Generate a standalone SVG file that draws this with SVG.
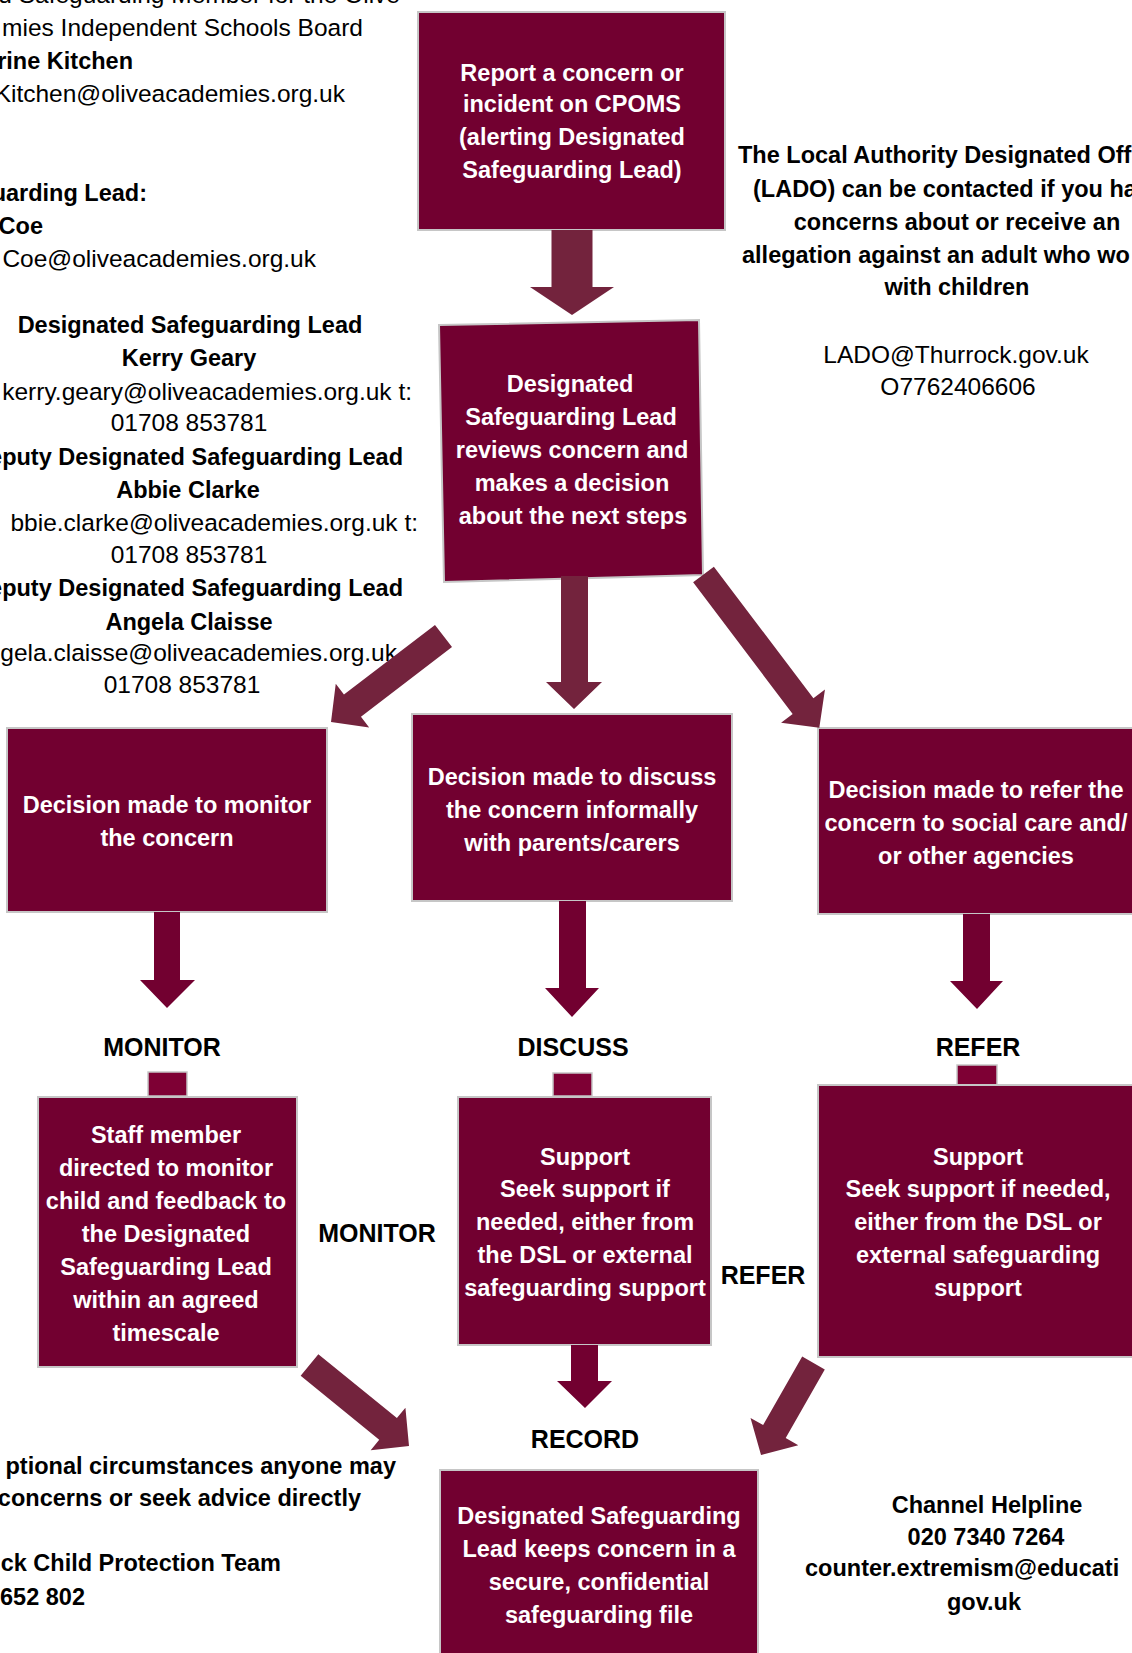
<svg xmlns="http://www.w3.org/2000/svg" width="1132" height="1653" viewBox="0 0 1132 1653">
<style>
.box{fill:#720030;stroke:#c6c6c6;stroke-width:2}
.sq{fill:#7e0034;stroke:#c6c6c6;stroke-width:1.5}
.arr{fill:#73233d}
.arrd{fill:#720030}
text{font-family:"Liberation Sans",Arial,sans-serif}
.wt{fill:#fff;font-weight:bold;font-size:23.5px;text-anchor:middle}
.bt{fill:#000;font-weight:bold;font-size:23.5px}
.rt{fill:#000;font-size:24.5px}
.lbl{fill:#000;font-weight:bold;font-size:25px;text-anchor:middle}
.m{text-anchor:middle}
.e{text-anchor:end}
</style>
<rect width="1132" height="1653" fill="#fff"/>

<g id="contacts-left">
<text class="rt e" x="400" y="3">d Safeguarding Member for the Olive</text>
<text class="rt e" x="363" y="36">mies Independent Schools Board</text>
<text class="bt e" x="133" y="69">rine Kitchen</text>
<text class="rt e" x="345" y="102">Kitchen@oliveacademies.org.uk</text>
<text class="bt e" x="147" y="201">uarding Lead:</text>
<text class="bt e" x="43" y="234">Coe</text>
<text class="rt e" x="316" y="267">Coe@oliveacademies.org.uk</text>
<text class="bt m" x="190" y="333">Designated Safeguarding Lead</text>
<text class="bt m" x="189" y="366">Kerry Geary</text>
<text class="rt e" x="412" y="400">kerry.geary@oliveacademies.org.uk t:</text>
<text class="rt m" x="189" y="431">01708 853781</text>
<text class="bt e" x="403" y="465">eputy Designated Safeguarding Lead</text>
<text class="bt m" x="188" y="498">Abbie Clarke</text>
<text class="rt e" x="418" y="531">bbie.clarke@oliveacademies.org.uk t:</text>
<text class="rt m" x="189" y="563">01708 853781</text>
<text class="bt e" x="403" y="596">eputy Designated Safeguarding Lead</text>
<text class="bt m" x="189" y="630">Angela Claisse</text>
<text class="rt e" x="397" y="661">gela.claisse@oliveacademies.org.uk</text>
<text class="rt m" x="182" y="693">01708 853781</text>
</g>

<g id="lado">
<text class="bt" x="738" y="163">The Local Authority Designated Off</text>
<text class="bt" x="753" y="197">(LADO) can be contacted if you ha</text>
<text class="bt m" x="957" y="230">concerns about or receive an</text>
<text class="bt" x="742" y="263">allegation against an adult who wo</text>
<text class="bt m" x="957" y="295">with children</text>
<text class="rt m" x="956" y="363">LADO@Thurrock.gov.uk</text>
<text class="rt m" x="958" y="395">O7762406606</text>
</g>

<g id="report">
<rect class="box" x="418" y="12" width="307" height="218"/>
<text class="wt" x="572" y="81">Report a concern or</text>
<text class="wt" x="572" y="112">incident on CPOMS</text>
<text class="wt" x="572" y="145">(alerting Designated</text>
<text class="wt" x="572" y="178">Safeguarding Lead)</text>
</g>

<g id="dsl-review">
<polygon class="box" points="439,325 699,320 703,575 444,582"/>
<text class="wt" x="570" y="392">Designated</text>
<text class="wt" x="571" y="425">Safeguarding Lead</text>
<text class="wt" x="572" y="458">reviews concern and</text>
<text class="wt" x="572" y="491">makes a decision</text>
<text class="wt" x="573" y="524">about the next steps</text>
</g>

<g id="decide-monitor">
<rect class="box" x="7" y="728" width="320" height="184"/>
<text class="wt" x="167" y="813">Decision made to monitor</text>
<text class="wt" x="167" y="846">the concern</text>
</g>

<g id="decide-discuss">
<rect class="box" x="412" y="714" width="320" height="187"/>
<text class="wt" x="572" y="785">Decision made to discuss</text>
<text class="wt" x="572" y="818">the concern informally</text>
<text class="wt" x="572" y="851">with parents/carers</text>
</g>

<g id="decide-refer">
<rect class="box" x="818" y="728" width="330" height="186"/>
<text class="wt" x="976" y="798">Decision made to refer the</text>
<text class="wt" x="976" y="831">concern to social care and/</text>
<text class="wt" x="976" y="864">or other agencies</text>
</g>

<g id="label-monitor">
<text class="lbl" x="162" y="1056">MONITOR</text>
<rect class="sq" x="148" y="1072" width="39" height="24"/>
</g>
<g id="label-discuss">
<text class="lbl" x="573" y="1056">DISCUSS</text>
<rect class="sq" x="553" y="1073" width="39" height="23"/>
</g>
<g id="label-refer">
<text class="lbl" x="978" y="1056">REFER</text>
<rect class="sq" x="957" y="1065" width="40" height="20"/>
</g>

<g id="monitor-box">
<rect class="box" x="38" y="1097" width="259" height="270"/>
<text class="wt" x="166" y="1143">Staff member</text>
<text class="wt" x="166" y="1176">directed to monitor</text>
<text class="wt" x="166" y="1209">child and feedback to</text>
<text class="wt" x="166" y="1242">the Designated</text>
<text class="wt" x="166" y="1275">Safeguarding Lead</text>
<text class="wt" x="166" y="1308">within an agreed</text>
<text class="wt" x="166" y="1341">timescale</text>
</g>

<g id="discuss-box">
<rect class="box" x="458" y="1097" width="253" height="248"/>
<text class="wt" x="585" y="1165">Support</text>
<text class="wt" x="585" y="1197">Seek support if</text>
<text class="wt" x="585" y="1230">needed, either from</text>
<text class="wt" x="585" y="1263">the DSL or external</text>
<text class="wt" x="585" y="1296">safeguarding support</text>
</g>

<g id="refer-box">
<rect class="box" x="818" y="1085" width="330" height="272"/>
<text class="wt" x="978" y="1165">Support</text>
<text class="wt" x="978" y="1197">Seek support if needed,</text>
<text class="wt" x="978" y="1230">either from the DSL or</text>
<text class="wt" x="978" y="1263">external safeguarding</text>
<text class="wt" x="978" y="1296">support</text>
</g>

<g id="mid-labels">
<text class="lbl" x="377" y="1242">MONITOR</text>
<text class="lbl" x="763" y="1284">REFER</text>
</g>

<g id="record">
<text class="lbl" x="585" y="1448">RECORD</text>
<rect class="box" x="440" y="1470" width="318" height="200"/>
<text class="wt" x="599" y="1524">Designated Safeguarding</text>
<text class="wt" x="599" y="1557">Lead keeps concern in a</text>
<text class="wt" x="599" y="1590">secure, confidential</text>
<text class="wt" x="599" y="1623">safeguarding file</text>
</g>

<g id="contacts-bottom-left">
<text class="bt e" x="396" y="1474">ptional circumstances anyone may</text>
<text class="bt e" x="361" y="1506">concerns or seek advice directly</text>
<text class="bt e" x="281" y="1571">ck Child Protection Team</text>
<text class="bt e" x="85" y="1605">652 802</text>
</g>

<g id="channel">
<text class="bt m" x="987" y="1513">Channel Helpline</text>
<text class="bt m" x="986" y="1545">020 7340 7264</text>
<text class="bt" x="805" y="1576">counter.extremism@educati</text>
<text class="bt m" x="984" y="1610">gov.uk</text>
</g>

<g id="connectors">
<path class="arr" d="M551.5,230 H592.5 V287 H614 L572,315 L530,287 H551.5 Z"/>
<path class="arr" d="M561,576 H588 V682 H602 L574,709 L546,682 H561 Z"/>
<path class="arr" transform="translate(443.5,636) rotate(142.6)" d="M0,-14 H114.6 V-27.5 L141.6,0 L114.6,27.5 V14 H0 Z"/>
<path class="arr" transform="translate(703.5,574.5) rotate(52.9)" d="M0,-13 H165 V-27.5 L192,0 L165,27.5 V13 H0 Z"/>
<path class="arrd" d="M154,912 H180 V980 H195 L167,1008 L140,980 H154 Z"/>
<path class="arrd" d="M559,901 H586 V988 H599 L572,1017 L545,988 H559 Z"/>
<path class="arrd" d="M963,914 H990 V981 H1003 L977,1009 L950,981 H963 Z"/>
<path class="arrd" d="M571,1345 H598 V1381 H612 L585,1408 L557,1381 H571 Z"/>
<path class="arr" transform="translate(309.5,1365) rotate(39.15)" d="M0,-14 H101.3 V-27.5 L128.3,0 L101.3,27.5 V14 H0 Z"/>
<path class="arr" transform="translate(813.5,1363) rotate(119.7)" d="M0,-13 H78.9 V-27.5 L105.9,0 L78.9,27.5 V13 H0 Z"/>
</g>
</svg>
